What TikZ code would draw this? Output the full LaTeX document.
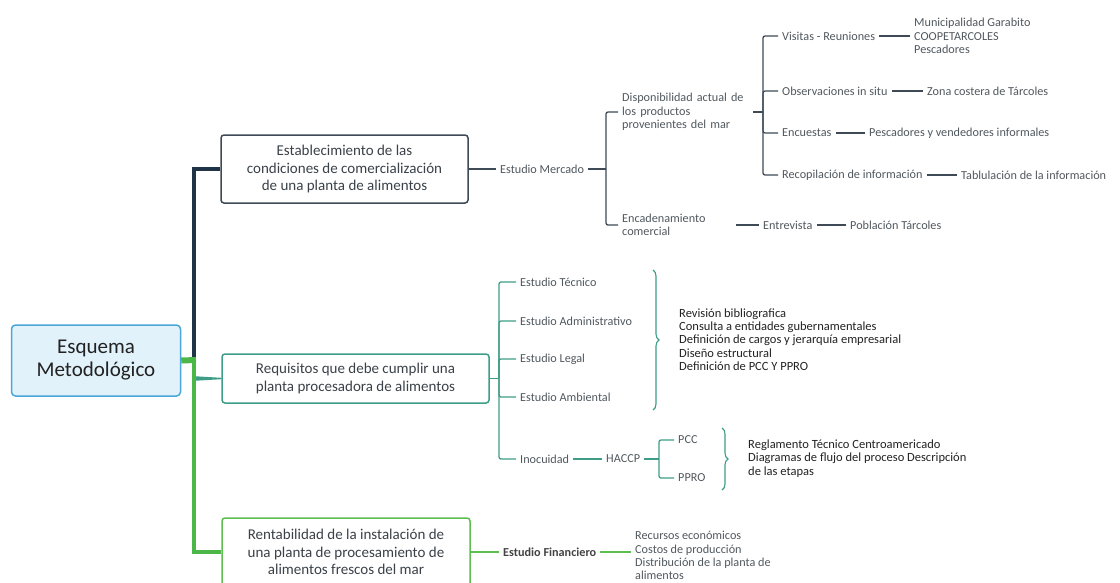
\documentclass[tikz,border=0pt]{standalone}
\usepackage{fontspec}
\setmainfont{Carlito}
\usepackage{tikz}
\usetikzlibrary{positioning,decorations.pathreplacing}

\definecolor{navyc}{HTML}{1F3447}
\definecolor{slatec}{HTML}{3E4A55}
\definecolor{tealc}{HTML}{3D9D86}
\definecolor{greenc}{HTML}{5BBE4E}
\definecolor{trunkgreenc}{HTML}{4CB748}
\definecolor{rootblue}{HTML}{4AA7D8}
\definecolor{rootfill}{HTML}{E1F2FB}
\definecolor{leafgray}{HTML}{50585E}
\definecolor{notedark}{HTML}{222222}
\definecolor{boxtext}{HTML}{3A4148}

\tikzset{
  rootbox/.style={draw=rootblue, fill=rootfill, line width=1.5pt, rounded corners=4pt,
    minimum width=169, minimum height=71, align=center, text=notedark,
    font=\fontsize{21}{23}\selectfont},
  topicbox/.style={draw=#1, fill=white, line width=1.5pt, rounded corners=3pt,
    align=center, text=boxtext, font=\fontsize{15}{17.5}\selectfont},
  leaf/.style={anchor=west, inner xsep=4pt, inner ysep=1pt, text=leafgray,
    align=left, font=\fontsize{12.2}{13.5}\selectfont},
  notes/.style={anchor=west, inner xsep=4pt, inner ysep=1pt, text=notedark,
    align=left, font=\fontsize{12.5}{13.3}\selectfont},
  topline/.style={slatec, line width=1.3pt, rounded corners=2pt},
  midline/.style={tealc, line width=1.3pt, rounded corners=2pt},
  lowline/.style={greenc, line width=1.3pt, rounded corners=2pt},
  bracegroup/.style={tealc, line width=1.1pt, decorate, decoration={brace, amplitude=6pt}}
}

\begin{document}
\begin{tikzpicture}[x=1pt, y=-1pt]
\useasboundingbox (0,0) rectangle (1120,582);

\node [rootbox] (root) at (96,360.5) {Esquema\\Metodológico};

\node [topicbox=slatec, minimum width=247, minimum height=68] (cond) at (344.5,169)
  {Establecimiento de las\\condiciones de comercialización\\de una planta de alimentos};
\node [topicbox=tealc, minimum width=267, minimum height=49] (req) at (355.5,378.5)
  {Requisitos que debe cumplir una\\planta procesadora de alimentos};
\node [topicbox=greenc, minimum width=248, minimum height=68] (rent) at (346,552)
  {Rentabilidad de la instalación de\\una planta de procesamiento de\\alimentos frescos del mar};

\coordinate (fork) at (194,360);
\draw [navyc, line width=3.5pt] (cond.west) -| (fork);
\draw [trunkgreenc, line width=4pt] (194,357) |- (rent.west);
\draw [trunkgreenc, line width=6pt] (root.east) -- (196,360);
\fill [tealc] (196,376.3) -- ([yshift=0.7pt]req.west) -- ([yshift=-0.7pt]req.west) -- (196,380.7) -- cycle;

\node [leaf] (mercado) at (496,169) {Estudio Mercado};
\node [leaf, text width=127] (dispo) at (618,112) {Disponibilidad actual de\\los productos\\provenientes del mar};
\node [leaf, text width=110] (encad) at (618,225) {Encadenamiento\\comercial};
\coordinate (mkfork) at (606,169);
\draw [topline] (cond.east) -- (mercado.west);
\draw [topline] (mercado.east) -- (mkfork);
\draw [topline] (mkfork) |- (dispo.west);
\draw [topline] (mkfork) |- (encad.west);

\node [leaf] (visitas) at (778,36) {Visitas - Reuniones};
\node [leaf] (muni) at (910,36) {Municipalidad Garabito\\COOPETARCOLES\\Pescadores};
\node [leaf] (obs) at (778,91) {Observaciones in situ};
\node [leaf] (zona) at (923,91) {Zona costera de Tárcoles};
\node [leaf] (enc) at (778,133) {Encuestas};
\node [leaf] (pesc) at (865,133) {Pescadores y vendedores informales};
\node [leaf] (recop) at (778,175) {Recopilación de información};
\node [leaf] (tabl) at (957,175) {Tablulación de la información};
\coordinate (dispofork) at (763,112);
\draw [topline] (dispo.east) -- (dispofork);
\foreach \kid in {visitas,obs,enc,recop}
  \draw [topline] (dispofork) |- (\kid.west);
\draw [topline] (visitas.east) -- (visitas.east -| muni.west);
\draw [topline] (obs.east) -- (zona.west);
\draw [topline] (enc.east) -- (pesc.west);
\draw [topline] (recop.east) -- (tabl.west);

\node [leaf] (entrev) at (759,225) {Entrevista};
\node [leaf] (pobl) at (846,225) {Población Tárcoles};
\draw [topline] (encad.east) -- (entrev.west);
\draw [topline] (entrev.east) -- (pobl.west);

\node [leaf] (tec) at (516,282) {Estudio Técnico};
\node [leaf] (adm) at (516,321) {Estudio Administrativo};
\node [leaf] (leg) at (516,359) {Estudio Legal};
\node [leaf] (amb) at (516,397) {Estudio Ambiental};
\node [leaf] (ino) at (516,459) {Inocuidad};
\coordinate (reqfork) at (499,378.5);
\draw [midline] (req.east) -- (reqfork);
\foreach \kid in {tec,adm,leg,amb,ino}
  \draw [midline] (reqfork) |- (\kid.west);

\draw [bracegroup] (653,270) -- (653,410);
\node [notes] (revision) at (675,339.5) {Revisión bibliografica\\Consulta a entidades gubernamentales\\Definición de cargos y jerarquía empresarial\\Diseño estructural\\Definición de PCC Y PPRO};

\node [leaf] (haccp) at (602,459) {HACCP};
\node [leaf] (pcc) at (674,440) {PCC};
\node [leaf] (ppro) at (674,478) {PPRO};
\coordinate (hafork) at (659,459);
\draw [midline] (ino.east) -- (haccp.west);
\draw [midline] (haccp.east) -- (hafork);
\draw [midline] (hafork) |- (pcc.west);
\draw [midline] (hafork) |- (ppro.west);

\draw [bracegroup] (722,428) -- (722,490);
\node [notes] (reglam) at (744,458.5) {Reglamento Técnico Centroamericado\\Diagramas de flujo del proceso Descripción\\de las etapas};

\node [leaf, text=notedark!85, font=\fontsize{12.2}{13.5}\selectfont\bfseries] (fin) at (499,552) {Estudio Financiero};
\node [leaf, font=\fontsize{12.2}{13.2}\selectfont] (recursos) at (631,555.5) {Recursos económicos\\Costos de producción\\Distribución de la planta de\\alimentos};
\draw [lowline] (rent.east) -- (fin.west);
\draw [lowline] (fin.east) -- (fin.east -| recursos.west);

\end{tikzpicture}
\end{document}
